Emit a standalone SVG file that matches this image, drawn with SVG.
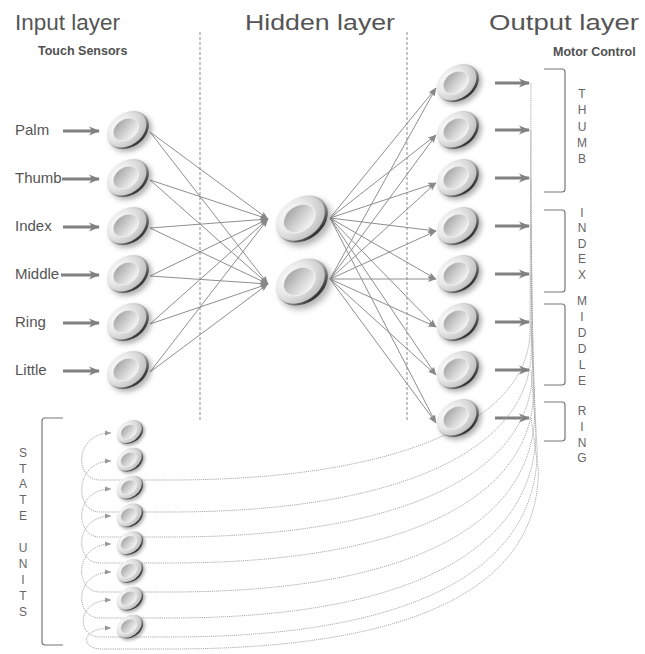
<svg xmlns="http://www.w3.org/2000/svg" width="645" height="654" viewBox="0 0 645 654">
  <style>
    text { font-family: "Liberation Sans", Arial, sans-serif; fill: #555; }
    .title { font-size: 22.5px; }
    .sub { font-size: 12.5px; font-weight: bold; fill: #505050; }
    .lbl { font-size: 15px; }
    .vert { font-size: 12px; fill: #666; text-anchor: middle; }
    .fat { stroke: #808080; stroke-width: 3; fill: none; marker-end: url(#fatHead); }
    .link { stroke: #8e8e8e; stroke-width: 1; fill: none; marker-end: url(#thinHead); }
    .loop { stroke: #a2a2a2; stroke-width: 0.9; fill: none; stroke-dasharray: 1.2 0.9; marker-end: url(#dotHead); }
    .divider { stroke: #8a8a8a; stroke-width: 1; stroke-dasharray: 3 2; }
    .brace { stroke: #777; stroke-width: 1.2; fill: none; }
  </style>
  <defs>
    <marker id="fatHead" markerUnits="userSpaceOnUse" markerWidth="12" markerHeight="10" refX="10" refY="5" orient="auto">
      <path d="M0,0.5 L11,5 L0,9.5 L3,5 Z" fill="#808080"/>
    </marker>
    <marker id="thinHead" markerUnits="userSpaceOnUse" markerWidth="9" markerHeight="7" refX="8" refY="3.5" orient="auto">
      <path d="M0,0.5 L8.5,3.5 L0,6.5 L1.8,3.5 Z" fill="#888"/>
    </marker>
    <marker id="dotHead" markerUnits="userSpaceOnUse" markerWidth="8" markerHeight="6" refX="6.5" refY="3" orient="auto">
      <path d="M0,0.3 L7,3 L0,5.7 Z" fill="#9a9a9a"/>
    </marker>
    <filter id="shade" x="-50%" y="-50%" width="200%" height="200%">
      <feGaussianBlur stdDeviation="2.6"/>
    </filter>
    <linearGradient id="rimGrad" x1="0.4" y1="0" x2="0.6" y2="1">
      <stop offset="0" stop-color="#f0f0f0"/>
      <stop offset="0.55" stop-color="#a8a8a8"/>
      <stop offset="1" stop-color="#2a2a2a"/>
    </linearGradient>
    <radialGradient id="bodyGrad" cx="0.4" cy="0.3" r="0.8">
      <stop offset="0" stop-color="#ffffff"/>
      <stop offset="0.45" stop-color="#e8e8e8"/>
      <stop offset="0.85" stop-color="#c4c4c4"/>
      <stop offset="1" stop-color="#a6a6a6"/>
    </radialGradient>
    <linearGradient id="dishGrad" x1="0.3" y1="0" x2="0.7" y2="1">
      <stop offset="0" stop-color="#a4a4a4"/>
      <stop offset="0.5" stop-color="#cfcfcf"/>
      <stop offset="1" stop-color="#f6f6f6"/>
    </linearGradient>
    <!-- one shaded, tilted cell; sized by the scale on each use -->
    <g id="cell">
      <ellipse transform="translate(3,3) rotate(-35)" rx="22.5" ry="17" fill="#555" opacity="0.45" filter="url(#shade)"/>
      <g transform="rotate(-35)">
        <ellipse rx="22.5" ry="17" fill="url(#rimGrad)"/>
        <ellipse cx="-0.9" cy="-1.1" rx="21.4" ry="15.8" fill="url(#bodyGrad)"/>
        <ellipse cx="-1.5" cy="-1.6" rx="13.8" ry="10.2" fill="url(#dishGrad)" stroke="#f8f8f8" stroke-width="0.8" stroke-opacity="0.7"/>
      </g>
    </g>
  </defs>

  <rect width="645" height="654" fill="#fff"/>

  <!-- headings -->
  <g id="headings">
    <text class="title" x="15" y="30" textLength="105">Input layer</text>
    <text class="title" x="245" y="30" textLength="150" lengthAdjust="spacingAndGlyphs">Hidden layer</text>
    <text class="title" x="489" y="30" textLength="150" lengthAdjust="spacingAndGlyphs">Output layer</text>
    <text class="sub" x="38" y="55">Touch Sensors</text>
    <text class="sub" x="553" y="56">Motor Control</text>
  </g>

  <!-- layer dividers -->
  <line class="divider" x1="200" y1="32" x2="200" y2="420"/>
  <line class="divider" x1="407" y1="32" x2="407" y2="420"/>

  <!-- brackets and their vertical captions -->
  <g id="groups">
    <path class="brace" d="M544,69 L562,69 Q565,69 565,72 L565,189 Q565,192 562,192 L544,192"/>
    <path class="brace" d="M544,210 L562,210 Q565,210 565,213 L565,289 Q565,292 562,292 L544,292"/>
    <path class="brace" d="M544,304 L562,304 Q565,304 565,307 L565,382 Q565,385 562,385 L544,385"/>
    <path class="brace" d="M544,402 L562,402 Q565,402 565,405 L565,438 Q565,441 562,441 L544,441"/>
    <path class="brace" d="M63,418 L45,418 Q42,418 42,421 L42,642 Q42,645 45,645 L63,645"/>
    <text class="vert"><tspan x="582" y="97.5">T</tspan><tspan x="582" y="114">H</tspan><tspan x="582" y="130.5">U</tspan><tspan x="582" y="146.5">M</tspan><tspan x="582" y="162.5">B</tspan></text>
    <text class="vert"><tspan x="582" y="216.5">I</tspan><tspan x="582" y="232">N</tspan><tspan x="582" y="247.5">D</tspan><tspan x="582" y="263">E</tspan><tspan x="582" y="278.5">X</tspan></text>
    <text class="vert"><tspan x="582" y="304.5">M</tspan><tspan x="582" y="320.5">I</tspan><tspan x="582" y="336.5">D</tspan><tspan x="582" y="352.5">D</tspan><tspan x="582" y="368.5">L</tspan><tspan x="582" y="384.5">E</tspan></text>
    <text class="vert"><tspan x="582" y="414.5">R</tspan><tspan x="582" y="430.5">I</tspan><tspan x="582" y="446.5">N</tspan><tspan x="582" y="461.5">G</tspan></text>
    <text class="vert"><tspan x="23" y="456.5">S</tspan><tspan x="23" y="472.5">T</tspan><tspan x="23" y="487.5">A</tspan><tspan x="23" y="503.5">T</tspan><tspan x="23" y="519.5">E</tspan><tspan x="23" y="551.5">U</tspan><tspan x="23" y="567.5">N</tspan><tspan x="23" y="583.5">I</tspan><tspan x="23" y="599.5">T</tspan><tspan x="23" y="615.5">S</tspan></text>
  </g>

  <g id="connectors">
    <!-- sensor inputs -->
    <path class="fat" d="M63,131 L99,131"/>
    <path class="fat" d="M62,179 L99,179"/>
    <path class="fat" d="M63,227 L99,227"/>
    <path class="fat" d="M61,275 L99,275"/>
    <path class="fat" d="M63,323 L99,323"/>
    <path class="fat" d="M63,371 L99,371"/>

    <!-- input to hidden -->
    <path class="link" d="M150,132 L268,219"/><path class="link" d="M150,132 L268,284"/>
    <path class="link" d="M150,180 L268,219"/><path class="link" d="M150,180 L268,284"/>
    <path class="link" d="M150,228 L268,219"/><path class="link" d="M150,228 L268,284"/>
    <path class="link" d="M150,276 L268,219"/><path class="link" d="M150,276 L268,284"/>
    <path class="link" d="M150,324 L268,219"/><path class="link" d="M150,324 L268,284"/>
    <path class="link" d="M150,372 L268,219"/><path class="link" d="M150,372 L268,284"/>

    <!-- hidden to output -->
    <path class="link" d="M330,218 L436,88"/><path class="link" d="M330,279 L436,88"/>
    <path class="link" d="M330,218 L436,135"/><path class="link" d="M330,279 L436,135"/>
    <path class="link" d="M330,218 L436,183"/><path class="link" d="M330,279 L436,183"/>
    <path class="link" d="M330,218 L436,231"/><path class="link" d="M330,279 L436,231"/>
    <path class="link" d="M330,218 L436,279"/><path class="link" d="M330,279 L436,279"/>
    <path class="link" d="M330,218 L436,327"/><path class="link" d="M330,279 L436,327"/>
    <path class="link" d="M330,218 L436,375"/><path class="link" d="M330,279 L436,375"/>
    <path class="link" d="M330,218 L436,423"/><path class="link" d="M330,279 L436,423"/>

    <!-- motor outputs -->
    <path class="fat" d="M495,83 L529,83"/>
    <path class="fat" d="M495,130 L529,130"/>
    <path class="fat" d="M495,178 L529,178"/>
    <path class="fat" d="M495,226 L529,226"/>
    <path class="fat" d="M495,274 L529,274"/>
    <path class="fat" d="M495,322 L529,322"/>
    <path class="fat" d="M495,370 L529,370"/>
    <path class="fat" d="M495,418 L529,418"/>

    <!-- output copies fed back into the state units -->
    <path class="loop" d="M531,83 L530,330 C530,420 400,480 170,480 L100,480 C74,480 74,433 111,433"/>
    <path class="loop" d="M531,130 L531.2,350 C531.2,447 405,512 170,512 L100,512 C74,512 74,461 111,461"/>
    <path class="loop" d="M531,178 L532.4,370 C532.4,470 410,537 170,537 L100,537 C74,537 74,489 111,489"/>
    <path class="loop" d="M531,226 L533.6,390 C533.6,494 415,563 170,563 L100,563 C74,563 74,516 111,516"/>
    <path class="loop" d="M531,274 L534.8,410 C534.8,519 420,592 170,592 L100,592 C74,592 74,544 111,544"/>
    <path class="loop" d="M531,322 L536,430 C536,541 425,618 170,618 L100,618 C74,618 74,572 111,572"/>
    <path class="loop" d="M531,370 L537.2,450 C537.2,561 430,637 170,637 L100,637 C76,637 76,600 111,600"/>
    <path class="loop" d="M531,418 L538.4,470 C538.4,577 435,649 170,649 L102,649 C80,649 80,628 111,628"/>
  </g>

  <!-- input layer -->
  <g id="in-palm"><text class="lbl" x="15" y="135">Palm</text><use href="#cell" transform="translate(128,130)"/></g>
  <g id="in-thumb"><text class="lbl" x="15" y="183">Thumb</text><use href="#cell" transform="translate(128,178)"/></g>
  <g id="in-index"><text class="lbl" x="15" y="231">Index</text><use href="#cell" transform="translate(128,226)"/></g>
  <g id="in-middle"><text class="lbl" x="15" y="279">Middle</text><use href="#cell" transform="translate(128,274)"/></g>
  <g id="in-ring"><text class="lbl" x="15" y="327">Ring</text><use href="#cell" transform="translate(128,322)"/></g>
  <g id="in-little"><text class="lbl" x="15" y="375">Little</text><use href="#cell" transform="translate(128,370)"/></g>

  <!-- hidden layer -->
  <g id="hid-1"><use href="#cell" transform="translate(302,219) scale(1.24)"/></g>
  <g id="hid-2"><use href="#cell" transform="translate(302,282) scale(1.24)"/></g>

  <!-- output layer -->
  <g id="out-1"><use href="#cell" transform="translate(458,83)"/></g>
  <g id="out-2"><use href="#cell" transform="translate(458,130)"/></g>
  <g id="out-3"><use href="#cell" transform="translate(458,178)"/></g>
  <g id="out-4"><use href="#cell" transform="translate(458,226)"/></g>
  <g id="out-5"><use href="#cell" transform="translate(458,274)"/></g>
  <g id="out-6"><use href="#cell" transform="translate(458,322)"/></g>
  <g id="out-7"><use href="#cell" transform="translate(458,370)"/></g>
  <g id="out-8"><use href="#cell" transform="translate(458,418)"/></g>

  <!-- state units -->
  <g id="state-1"><use href="#cell" transform="translate(130,432) scale(0.63)"/></g>
  <g id="state-2"><use href="#cell" transform="translate(130,459.8) scale(0.63)"/></g>
  <g id="state-3"><use href="#cell" transform="translate(130,487.6) scale(0.63)"/></g>
  <g id="state-4"><use href="#cell" transform="translate(130,515.4) scale(0.63)"/></g>
  <g id="state-5"><use href="#cell" transform="translate(130,543.2) scale(0.63)"/></g>
  <g id="state-6"><use href="#cell" transform="translate(130,571) scale(0.63)"/></g>
  <g id="state-7"><use href="#cell" transform="translate(130,598.8) scale(0.63)"/></g>
  <g id="state-8"><use href="#cell" transform="translate(130,626.6) scale(0.63)"/></g>
</svg>
